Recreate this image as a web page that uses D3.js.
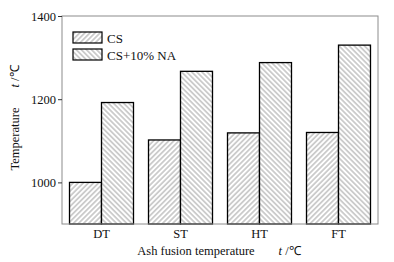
<!DOCTYPE html>
<html>
<head>
<meta charset="utf-8">
<script src="https://cdn.jsdelivr.net/npm/d3@7"></script>
<style>
  body { margin: 0; background: #fff; }
  text { font-family: "Liberation Serif", "Times New Roman", serif; fill: #111; }
</style>
</head>
<body>
<div id="container"></div>
<script>
//### DATA ###
const categories = [ 'DT', 'ST', 'HT', 'FT' ];
const seriesNames = [ 'CS', 'CS+10% NA' ];
const csValues = [ 1000, 1102, 1119, 1120 ];
const naValues = [ 1192, 1267, 1288, 1330 ];
const yTicks = [ 1000, 1200, 1400 ];

//_____ LAYOUT _____
const width = 394;
const height = 262;
const margin = { top: 16, right: 16, bottom: 38, left: 62 };
const innerW = width - margin.left - margin.right;
const innerH = height - margin.top - margin.bottom;
const frameColor = '#8c8c8c';

const svg = d3.select( '#container' ).append( 'svg' )
  .attr( 'width', width )
  .attr( 'height', height );

//>>> Hatch patterns
const defs = svg.append( 'defs' );
const hatch = ( id, angle ) => {
  const s = 3.6;
  const p = defs.append( 'pattern' )
    .attr( 'id', id )
    .attr( 'patternUnits', 'userSpaceOnUse' )
    .attr( 'width', s )
    .attr( 'height', s )
    .attr( 'patternTransform', `rotate(${angle})` );
  p.append( 'rect' ).attr( 'width', s ).attr( 'height', s ).attr( 'fill', '#fff' );
  p.append( 'line' )
    .attr( 'x1', s / 2 ).attr( 'y1', 0 ).attr( 'x2', s / 2 ).attr( 'y2', s )
    .attr( 'stroke', '#6e6e6e' ).attr( 'stroke-width', 0.65 );
};
hatch( 'hatchCS', 45 );
hatch( 'hatchNA', -45 );
const fills = [ 'url(#hatchCS)', 'url(#hatchNA)' ];

const g = svg.append( 'g' ).attr( 'transform', `translate(${margin.left},${margin.top})` );

//_____ SCALES _____
const x = d3.scaleBand()
  .domain( categories )
  .range( [ 0, innerW ] )
  .paddingInner( 0.19 )
  .paddingOuter( 0.095 );
const xSub = d3.scaleBand()
  .domain( seriesNames )
  .range( [ 0, x.bandwidth() ] );
const y = d3.scaleLinear()
  .domain( [ 900, 1400 ] )
  .range( [ innerH, 0 ] );

//_____ BARS _____
const rows = categories.map( ( c, i ) => ( { cat: c, vals: [ csValues[ i ], naValues[ i ] ] } ) );
const groups = g.selectAll( '.grp' )
  .data( rows )
  .enter().append( 'g' )
  .attr( 'transform', d => `translate(${x( d.cat )},0)` );
groups.selectAll( 'rect' )
  .data( d => d.vals.map( ( v, j ) => ( { name: seriesNames[ j ], v, j } ) ) )
  .enter().append( 'rect' )
  .attr( 'x', d => xSub( d.name ) )
  .attr( 'y', d => y( d.v ) )
  .attr( 'width', xSub.bandwidth() )
  .attr( 'height', d => innerH - y( d.v ) )
  .attr( 'fill', d => fills[ d.j ] )
  .attr( 'stroke', '#000' )
  .attr( 'stroke-width', 1.3 );

//_____ FRAME _____
g.append( 'rect' )
  .attr( 'width', innerW )
  .attr( 'height', innerH )
  .attr( 'fill', 'none' )
  .attr( 'stroke', frameColor )
  .attr( 'stroke-width', 1 );

//_____ AXES _____
const yAxis = g.append( 'g' )
  .call( d3.axisLeft( y ).tickValues( yTicks ).tickFormat( d3.format( 'd' ) ).tickSize( 4 ).tickPadding( 2 ) );
yAxis.select( '.domain' ).remove();
yAxis.selectAll( 'line' ).attr( 'stroke', '#333' );
yAxis.selectAll( 'text' ).style( 'font-size', '12.5px' ).attr( 'font-family', null );

const xAxis = g.append( 'g' )
  .attr( 'transform', `translate(0,${innerH})` )
  .call( d3.axisBottom( x ).tickSize( 0 ).tickPadding( 5 ) );
xAxis.select( '.domain' ).remove();
xAxis.selectAll( 'text' ).style( 'font-size', '12.5px' ).attr( 'font-family', null );

//_____ AXIS TITLES _____
const xTitle = svg.append( 'text' )
  .attr( 'x', 219 )
  .attr( 'y', 255 )
  .attr( 'text-anchor', 'middle' )
  .style( 'font-size', '12.5px' );
xTitle.append( 'tspan' ).text( 'Ash fusion temperature' );
xTitle.append( 'tspan' ).attr( 'dx', 24 ).style( 'font-style', 'italic' ).text( 't' );
xTitle.append( 'tspan' ).text( ' /℃' );

const yTitle = svg.append( 'text' )
  .attr( 'transform', 'translate(19,118) rotate(-90)' )
  .attr( 'text-anchor', 'middle' )
  .style( 'font-size', '12.5px' );
yTitle.append( 'tspan' ).text( 'Temperature' );
yTitle.append( 'tspan' ).attr( 'dx', 20 ).style( 'font-style', 'italic' ).text( 't' );
yTitle.append( 'tspan' ).text( ' /℃' );

//_____ LEGEND _____
const legend = svg.append( 'g' ).attr( 'transform', 'translate(73,32)' );
const items = legend.selectAll( 'g' )
  .data( seriesNames )
  .enter().append( 'g' )
  .attr( 'transform', ( d, i ) => `translate(0,${i * 17})` );
items.append( 'rect' )
  .attr( 'width', 29 )
  .attr( 'height', 11 )
  .attr( 'fill', ( d, i ) => fills[ i ] )
  .attr( 'stroke', '#000' )
  .attr( 'stroke-width', 1.2 );
items.append( 'text' )
  .attr( 'x', 34 )
  .attr( 'y', 10.5 )
  .style( 'font-size', '13px' )
  .text( d => d );
</script>
</body>
</html>
